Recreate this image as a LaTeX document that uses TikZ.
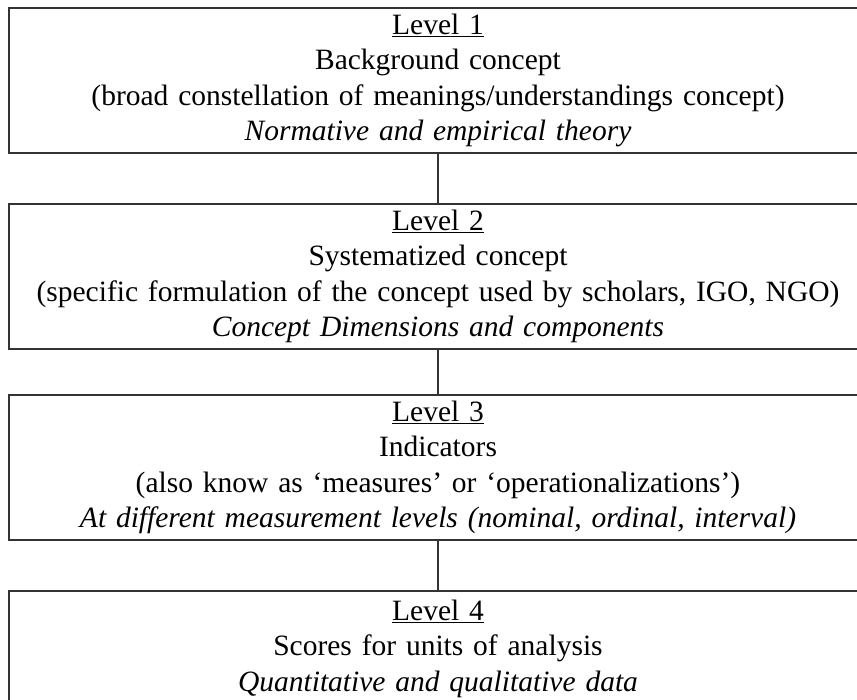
\documentclass[tikz,border=0pt]{standalone}
\usepackage{fontspec}
\setmainfont{Liberation Serif}
\usetikzlibrary{positioning}

\tikzset{
  levelbox/.style={draw=black!80,line width=1.6pt,fill=white,align=center,
    text width=858pt,inner xsep=0pt,inner ysep=2pt,anchor=north,
    minimum height=145pt,font=\fontsize{29.5}{35.5}\selectfont},
  link/.style={draw=black!80,line width=1.3pt}
}

\begin{document}
\begin{tikzpicture}[x=1pt,y=-1pt]

\useasboundingbox (0,0) rectangle (857,699);

\begin{scope}

\clip (0,0) -- (857,0) -- (857,699) -- (0,699) -- cycle;

\fill [white] (0,0) rectangle (857,699);

% the four levels
\node [levelbox] (lvl1) at (438,7) {\underline{Level 1}\\
  Background concept\\
  (broad constellation of meanings/understandings concept)\\
  \textit{Normative and empirical theory}};

\node [levelbox] (lvl2) at (438,203) {\underline{Level 2}\\
  Systematized concept\\
  (specific formulation of the concept used by scholars, IGO, NGO)\\
  \textit{Concept Dimensions and components}};

\node [levelbox] (lvl3) at (438,394) {\underline{Level 3}\\
  Indicators\\
  (also know as ‘measures’ or ‘operationalizations’)\\
  \textit{At different measurement levels (nominal, ordinal, interval)}};

\node [levelbox] (lvl4) at (438,590) {\underline{Level 4}\\
  Scores for units of analysis\\
  \textit{Quantitative and qualitative data}\\ \mbox{}};

% connectors
\draw [link] (lvl1) -- (lvl2);
\draw [link] (lvl2) -- (lvl3);
\draw [link] (lvl3) -- (lvl4);

\end{scope}

\end{tikzpicture}
\end{document}
